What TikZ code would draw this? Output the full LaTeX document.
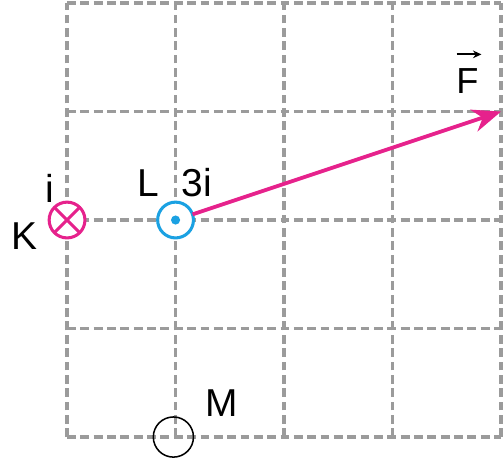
\documentclass[tikz,border=0pt]{standalone}
\usepackage{fontspec}
\setmainfont{Liberation Sans}
\usepackage{tikz}
\usetikzlibrary{positioning, arrows.meta, calc}
\definecolor{wiremag}{HTML}{E6228C}
\definecolor{wirecyan}{HTML}{1BA1E2}
\definecolor{gridgray}{HTML}{9B9B9B}
\tikzset{
  gridline/.style={
    draw=gridgray,
    line width=0.85pt,
    dash pattern=on 2.3pt off 1.2pt
  },
  wirenode/.style={
    circle,
    draw,
    line width=0.8pt,
    minimum size=0.33cm,
    inner sep=0pt,
    outer sep=0pt,
    fill=white
  },
  forcearrow/.style={
    -{Stealth[length=7.5pt,width=6pt]},
    draw=wiremag,
    line width=1pt
  },
  letterlabel/.style={
    font=\fontsize{10.2}{12}\selectfont,
    inner sep=0pt,
    anchor=base
  }
}

\begin{document}
\begin{tikzpicture}
  \useasboundingbox (-0.618,-0.258) rectangle (4.018,4.028);
  \draw[gridline] (0,0) grid (4,4);
  % wires
  \node[wirenode, draw=wiremag] (K) at (0,2) {};
  \draw[wiremag, line width=0.8pt] (K.north west) -- (K.south east)
                                  (K.north east) -- (K.south west);
  \node[wirenode, draw=wirecyan] (L) at (1,2) {};
  \fill[wirecyan] (L.center) circle (0.042);
  \node[wirenode, draw=black, line width=0.4pt, minimum size=0.37cm, fill=none] (M) at (0.98,0) {};
  % force
  \coordinate (Ftip) at (4,3);
  \draw[forcearrow] (L) -- (Ftip);
  % labels
  \node[letterlabel] (Klabel) at (-0.396,1.724) {K};
  \node[letterlabel] (ilabel) at (-0.157,2.166) {i};
  \node[letterlabel] (Llabel) at (0.747,2.221) {L};
  \node[letterlabel] (Ilabel) at (1.198,2.221) {3i};
  \node[letterlabel] (Mlabel) at (1.429,0.187) {M};
  \node[letterlabel, font=\fontsize{9.5}{11}\selectfont] (Flabel) at (3.69,3.17) {F};
  \draw[-{Stealth[length=2.2pt,width=2pt]}, line width=0.5pt]
    ($(Flabel.north west)+(0.01,0.12)$) -- ($(Flabel.north east)+(0.02,0.12)$);
\end{tikzpicture}
\end{document}
